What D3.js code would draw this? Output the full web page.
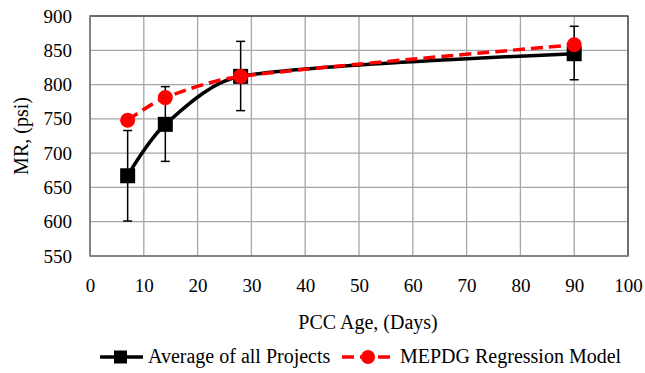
<!DOCTYPE html>
<html>
<head>
<meta charset="utf-8">
<script src="https://cdn.jsdelivr.net/npm/d3@7"></script>
<style>
  html, body { margin: 0; padding: 0; background: #fff; }
</style>
</head>
<body>
<svg id="chart" width="645" height="373"></svg>
<script>
// PCC age (days) at which resilient modulus was measured
const ages = [7, 14, 28, 90];
// Average of all projects, with error bar bounds
const avgMR = [667, 742, 812, 845];
const avgLow = [601, 688, 762, 807];
const avgHigh = [733, 797, 863, 885];
// MEPDG regression model predictions
const mepdgMR = [748, 781, 812, 858];
// Axis ticks
const xTicks = [0, 10, 20, 30, 40, 50, 60, 70, 80, 90, 100];
const yTicks = [550, 600, 650, 700, 750, 800, 850, 900];

const FONT = '"Liberation Serif"';
const svg = d3.select("#chart");
const m = { left: 90, right: 628, top: 16, bottom: 256 };

const x = d3.scaleLinear().domain([0, 100]).range([m.left, m.right]);
const y = d3.scaleLinear().domain([550, 900]).range([m.bottom, m.top]);

// Spreadsheet-style smoothed line: Catmull-Rom tangents, with each Bezier
// handle limited to a third of its segment so short segments don't kink.
function smoothCurve(context) {
  let pts;
  return {
    areaStart() {}, areaEnd() {},
    lineStart() { pts = []; },
    point(px, py) { pts.push([+px, +py]); },
    lineEnd() {
      const n = pts.length;
      if (!n) return;
      context.moveTo(pts[0][0], pts[0][1]);
      const tan = pts.map((p, i) => {
        const a = pts[Math.max(0, i - 1)], b = pts[Math.min(n - 1, i + 1)];
        return (i === 0 || i === n - 1) ? [0, 0] : [(b[0] - a[0]) / 6, (b[1] - a[1]) / 6];
      });
      const clamp = (t, L) => {
        const len = Math.hypot(t[0], t[1]);
        const s = len > L / 3 ? (L / 3) / len : 1;
        return [t[0] * s, t[1] * s];
      };
      for (let i = 0; i < n - 1; i++) {
        const p0 = pts[i], p1 = pts[i + 1];
        const L = Math.hypot(p1[0] - p0[0], p1[1] - p0[1]);
        const t0 = clamp(tan[i], L), t1 = clamp(tan[i + 1], L);
        context.bezierCurveTo(p0[0] + t0[0], p0[1] + t0[1],
                              p1[0] - t1[0], p1[1] - t1[1], p1[0], p1[1]);
      }
    }
  };
}

// Gridlines
const grid = svg.append("g").attr("stroke", "#a6a6a6").attr("stroke-width", 1.3);
xTicks.forEach(t => grid.append("line")
  .attr("x1", x(t)).attr("x2", x(t)).attr("y1", m.top).attr("y2", m.bottom));
yTicks.forEach(t => grid.append("line")
  .attr("x1", m.left).attr("x2", m.right).attr("y1", y(t)).attr("y2", y(t)));

// Plot frame
svg.append("rect")
  .attr("x", m.left).attr("y", m.top)
  .attr("width", m.right - m.left).attr("height", m.bottom - m.top)
  .attr("fill", "none").attr("stroke", "#404040").attr("stroke-width", 1.3);
svg.append("line").attr("x1", m.left).attr("x2", m.left).attr("y1", m.top).attr("y2", m.bottom)
  .attr("stroke", "#8c8c8c").attr("stroke-width", 1.5);
svg.append("line").attr("x1", m.left).attr("x2", m.right).attr("y1", m.bottom).attr("y2", m.bottom)
  .attr("stroke", "#8c8c8c").attr("stroke-width", 1.5);

// Axes (labels only)
const xAxis = d3.axisBottom(x).tickValues(xTicks).tickSize(0).tickPadding(0);
const gx = svg.append("g").attr("transform", `translate(0,${m.bottom + 22})`).call(xAxis);
const yAxis = d3.axisLeft(y).tickValues(yTicks).tickSize(0).tickPadding(0);
const gy = svg.append("g").attr("transform", `translate(${m.left - 18},0)`).call(yAxis);
[gx, gy].forEach(g => {
  g.select(".domain").remove();
  g.attr("font-family", null).attr("font-size", null);
  g.selectAll("text").style("font-family", FONT)
    .style("font-size", "19px").attr("fill", "#000");
});
gx.selectAll("text").attr("dy", "0.71em").attr("y", 0);

// Axis titles
svg.append("text").attr("x", 368).attr("y", 329).attr("text-anchor", "middle")
  .style("font-family", FONT).style("font-size", "20px").text("PCC Age, (Days)");
svg.append("text").attr("transform", `translate(28,${(m.top + m.bottom) / 2}) rotate(-90)`)
  .attr("text-anchor", "middle").style("font-family", FONT).style("font-size", "20px")
  .text("MR, (psi)");

// Error bars
const eb = svg.append("g").attr("stroke", "#000").attr("stroke-width", 1.5);
ages.forEach((a, i) => {
  eb.append("line").attr("x1", x(a)).attr("x2", x(a)).attr("y1", y(avgLow[i])).attr("y2", y(avgHigh[i]));
  [avgLow[i], avgHigh[i]].forEach(v => eb.append("line")
    .attr("x1", x(a) - 4.5).attr("x2", x(a) + 4.5).attr("y1", y(v)).attr("y2", y(v)));
});

// Average series
const avgData = ages.map((a, i) => [a, avgMR[i]]);
svg.append("path").datum(avgData)
  .attr("d", d3.line().x(d => x(d[0])).y(d => y(d[1])).curve(smoothCurve))
  .attr("fill", "none").attr("stroke", "#000").attr("stroke-width", 3.5);
svg.append("g").selectAll("rect").data(avgData).join("rect")
  .attr("x", d => x(d[0]) - 7.5).attr("y", d => y(d[1]) - 7.5)
  .attr("width", 15).attr("height", 15).attr("fill", "#000");

// MEPDG series
const mepData = ages.map((a, i) => [a, mepdgMR[i]]);
svg.append("path").datum(mepData)
  .attr("d", d3.line().x(d => x(d[0])).y(d => y(d[1])).curve(smoothCurve))
  .attr("fill", "none").attr("stroke", "#ff0000").attr("stroke-width", 3.5)
  .attr("stroke-dasharray", "12,6");
svg.append("g").selectAll("circle").data(mepData).join("circle")
  .attr("cx", d => x(d[0])).attr("cy", d => y(d[1])).attr("r", 7.5).attr("fill", "#ff0000");

// Legend
const lg = svg.append("g");
const ly = 357;
lg.append("line").attr("x1", 100).attr("x2", 143).attr("y1", ly).attr("y2", ly)
  .attr("stroke", "#000").attr("stroke-width", 3.5);
lg.append("rect").attr("x", 114).attr("y", ly - 6.5).attr("width", 13).attr("height", 13).attr("fill", "#000");
lg.append("text").attr("x", 148).attr("y", ly + 6).style("font-family", FONT).style("font-size", "20px")
  .text("Average of all Projects");
lg.append("line").attr("x1", 342).attr("x2", 391).attr("y1", ly).attr("y2", ly)
  .attr("stroke", "#ff0000").attr("stroke-width", 3.5).attr("stroke-dasharray", "12,6");
lg.append("circle").attr("cx", 368).attr("cy", ly).attr("r", 7).attr("fill", "#ff0000");
lg.append("text").attr("x", 400).attr("y", ly + 6).style("font-family", FONT).style("font-size", "20px")
  .text("MEPDG Regression Model");
</script>
</body>
</html>
